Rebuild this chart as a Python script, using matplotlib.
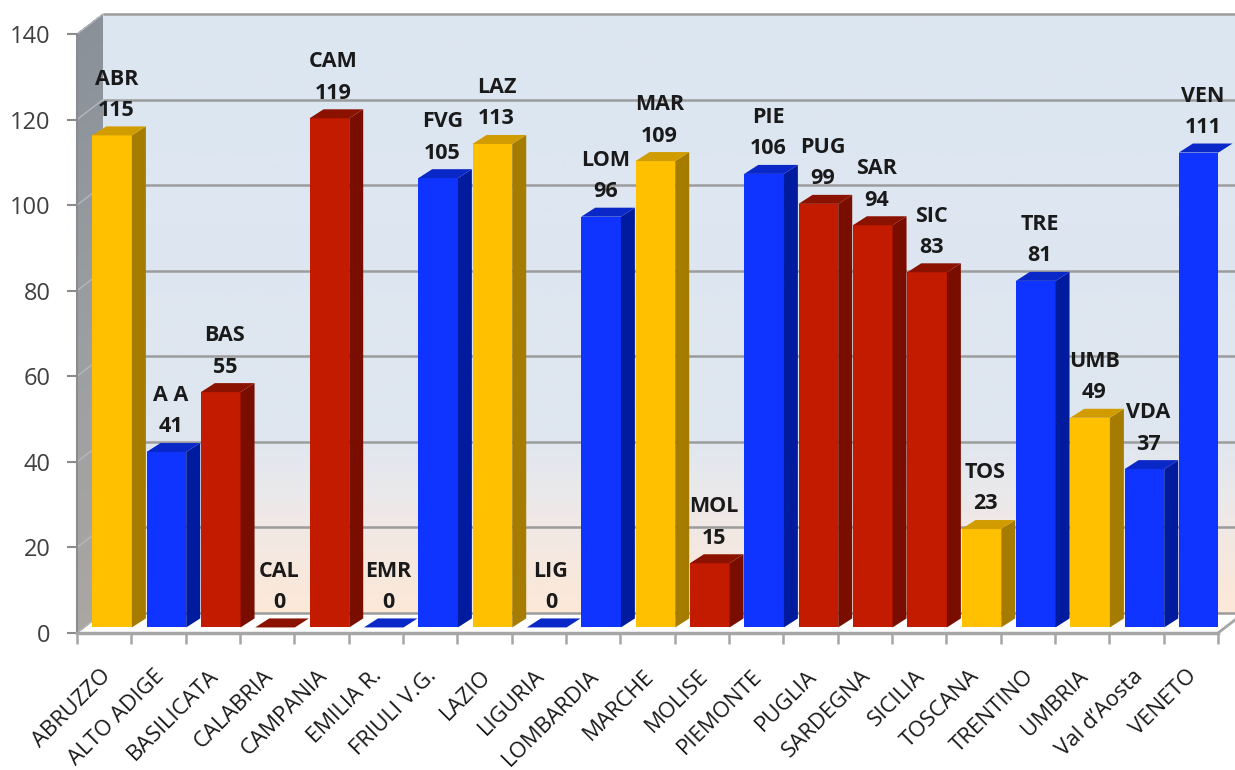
import numpy as np
import matplotlib.pyplot as plt
import matplotlib.transforms as mtransforms
from matplotlib.patches import Polygon
from matplotlib.colors import LinearSegmentedColormap

plt.rcParams['font.family'] = ['Open Sans', 'DejaVu Sans']

# dati per regione
regioni = ['ABRUZZO', 'ALTO ADIGE', 'BASILICATA', 'CALABRIA', 'CAMPANIA', 'EMILIA R.',
           'FRIULI V.G.', 'LAZIO', 'LIGURIA', 'LOMBARDIA', 'MARCHE', 'MOLISE', 'PIEMONTE',
           'PUGLIA', 'SARDEGNA', 'SICILIA', 'TOSCANA', 'TRENTINO', 'UMBRIA', 'Val d\u2019Aosta',
           'VENETO']
sigle = ['ABR', 'A A', 'BAS', 'CAL', 'CAM', 'EMR', 'FVG', 'LAZ', 'LIG', 'LOM', 'MAR', 'MOL',
         'PIE', 'PUG', 'SAR', 'SIC', 'TOS', 'TRE', 'UMB', 'VDA', 'VEN']
valori = [115, 41, 55, 0, 119, 0, 105, 113, 0, 96, 109, 15, 106, 99, 94, 83, 23, 81, 49, 37, 111]
gruppi = ['G', 'B', 'R', 'R', 'R', 'B', 'B', 'G', 'B', 'B', 'G', 'R', 'B', 'R', 'R', 'R', 'G',
          'B', 'G', 'B', 'B']
y_ticks = [0, 20, 40, 60, 80, 100, 120, 140]

# colori: fronte, fianco, cima
colori = {
    'G': ('#FFC000', '#A67C00', '#D09C00'),
    'B': ('#1034FF', '#001B9E', '#0A28C8'),
    'R': ('#C21B00', '#780D00', '#8C1200'),
}

n = len(regioni)
ymax = 140

fig = plt.figure(figsize=(12.35, 7.7), dpi=100)
ax = fig.add_axes([77 / 1235, 137 / 770, 1141 / 1235, 599 / 770])

# profondità della parete di fondo e delle barre (in unità dati)
px_x = n / 1141
px_y = ymax / 599
wall_dx, wall_dy = 26 * px_x, 20 * px_y
bar_dx, bar_dy = 14 * px_x, 9 * px_y
bar_off, bar_w, bar_z = 0.28, 0.73, 1.3

# parete di fondo sfumata
cm_fondo = LinearSegmentedColormap.from_list('fondo', [
    (0.0, '#FCE8D8'), (0.12, '#F3E8E2'), (0.2, '#EAE9EB'), (0.3, '#DFE6F0'), (1.0, '#DCE6F2')])
grad = np.linspace(0, 1, 256).reshape(-1, 1)
ax.imshow(grad, cmap=cm_fondo, extent=[wall_dx, n + wall_dx, wall_dy, ymax + wall_dy],
          origin='lower', aspect='auto', zorder=0, clip_on=False, interpolation='bilinear')

# parete laterale grigia, a strisce per la sfumatura
cm_lato = LinearSegmentedColormap.from_list('lato', ['#AAA6A2', '#9A9EA2', '#899098'])
n_strisce = 70
lv = np.linspace(0, ymax, n_strisce + 1)
for k in range(n_strisce):
    a, b = lv[k], lv[k + 1]
    ax.add_patch(Polygon([(0, a), (wall_dx, a + wall_dy), (wall_dx, b + wall_dy), (0, b)],
                         closed=True, facecolor=cm_lato(k / n_strisce), edgecolor='none',
                         lw=0, zorder=0.5, clip_on=False, antialiased=False))

# griglia sulle pareti
for v in y_ticks:
    ax.plot([wall_dx, n + wall_dx], [v + wall_dy, v + wall_dy], color='#9C9C9C', lw=1.8,
            zorder=1, clip_on=False, solid_capstyle='butt')
    ax.plot([0, wall_dx], [v, v + wall_dy], color='#B4B8BC', lw=1.0, zorder=1, clip_on=False)
ax.plot([n, n + wall_dx], [0, wall_dy], color='#A6A6A6', lw=2, zorder=1, clip_on=False)

# barre 3D
for i, (v, g) in enumerate(zip(valori, gruppi)):
    fronte, fianco, cima = colori[g]
    x0 = i + bar_off
    x1 = x0 + bar_w
    top = bar_z + v
    if v > 0:
        ax.bar(x0, v, width=bar_w, bottom=bar_z, align='edge', color=fronte, zorder=3,
               edgecolor='none')
        ax.add_patch(Polygon([(x1, bar_z), (x1 + bar_dx, bar_z + bar_dy),
                              (x1 + bar_dx, top + bar_dy), (x1, top)],
                             closed=True, facecolor=fianco, edgecolor='none', zorder=3))
    ax.add_patch(Polygon([(x0, top), (x1, top), (x1 + bar_dx, top + bar_dy),
                          (x0 + bar_dx, top + bar_dy)],
                         closed=True, facecolor=cima, edgecolor='none', zorder=3,
                         clip_on=False))
    ax.annotate(f'{sigle[i]}\n{v}', xy=(x0 + bar_w / 2 + bar_dx * 0.3, top + bar_dy),
                xytext=(0, 4), textcoords='offset points', ha='center', va='bottom',
                fontsize=15.5, fontweight='bold', color='#1a1a1a', linespacing=1.64,
                zorder=4, annotation_clip=False)

ax.set_xlim(0, n)
ax.set_ylim(0, ymax)

# assi
for s in ['top', 'right']:
    ax.spines[s].set_visible(False)
ax.spines['left'].set_color('#8C8C8C')
ax.spines['left'].set_linewidth(1.5)
ax.spines['bottom'].set_color('#A6A6A6')
ax.spines['bottom'].set_linewidth(2.5)
ax.spines['left'].set_zorder(2)
ax.spines['bottom'].set_zorder(2)

ax.set_yticks(y_ticks)
ax.tick_params(axis='y', length=7, width=1.5, color='#8C8C8C', labelsize=17,
               labelcolor='#404040', pad=12)
ax.set_xticks(np.arange(n + 1))
ax.set_xticklabels([])
ax.tick_params(axis='x', length=8, width=1.8, color='#A6A6A6')

lab_tr = mtransforms.offset_copy(ax.get_xaxis_transform(), fig=fig, x=3, y=-40, units='dots')
for i, nome in enumerate(regioni):
    ax.text(i + 0.5, 0, nome, transform=lab_tr, rotation=45, rotation_mode='anchor',
            ha='right', va='center', fontsize=16, color='#1a1a1a')

fig.savefig('out.png', dpi=100)
